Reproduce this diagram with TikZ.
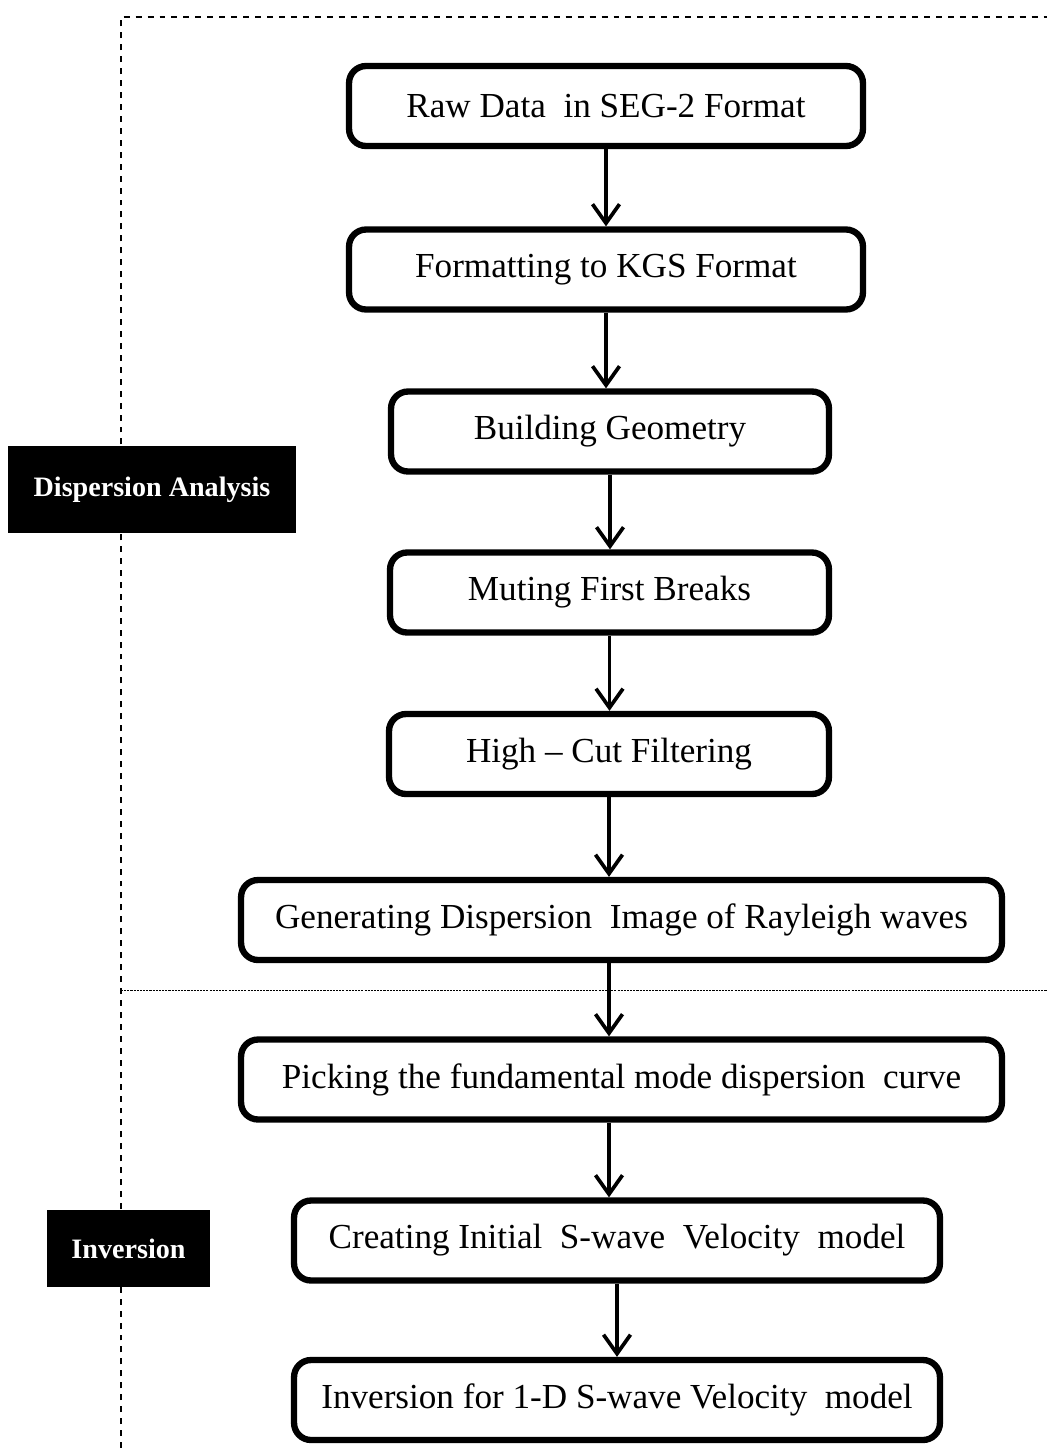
\documentclass[tikz,border=0pt]{standalone}
\usepackage{fontspec}
\setmainfont{Liberation Serif}
\usetikzlibrary{arrows.meta}

\tikzset{
	stepbox/.style={draw, line width=3.6pt, rounded corners=0.34cm, minimum height=1.6cm,
		inner sep=0pt, font=\fontsize{20}{24}\selectfont},
	tagbox/.style={fill=black, text=white, inner sep=0pt, font=\fontsize{16}{19}\selectfont\bfseries},
	flow/.style={line width=2.1pt, -{Straight Barb[length=0.38cm, width=0.54cm, line width=2.1pt]}},
	frame/.style={line width=0.8pt, dash pattern=on 3.4pt off 3.4pt},
	split/.style={line width=0.5pt, dash pattern=on 1.2pt off 0.6pt}
}

\begin{document}
\begin{tikzpicture}[x=0.02cm, y=-0.02cm]
	\useasboundingbox (0,0) rectangle (1047,1448);
	% dashed frame and split line
	\draw[frame] (121,1448) -- (121,17) -- (1047,17);
	\draw[split] (121,990) -- (1047,990);
	% processing steps
	\node[stepbox, minimum width=10.28cm] (raw) at (606,106) {Raw Data\ \ in SEG-2 Format};
	\node[stepbox, minimum width=10.28cm] (kgs) at (606,269.5) {Formatting to KGS Format};
	\node[stepbox, minimum width=8.76cm] (geom) at (610,431.5) {Building Geometry};
	\node[stepbox, minimum width=8.78cm] (mute) at (609.5,592.5) {Muting First Breaks};
	\node[stepbox, minimum width=8.8cm] (filt) at (609,754) {High -- Cut Filtering};
	\node[stepbox, minimum width=15.22cm] (image) at (621.5,920) {Generating Dispersion\ \ Image of Rayleigh waves};
	\node[stepbox, minimum width=15.22cm] (pick) at (621.5,1079.5) {Picking the fundamental mode dispersion\ \ curve};
	\node[stepbox, minimum width=12.92cm] (init) at (617,1240.5) {Creating Initial\ \ S-wave\ \ Velocity\ \ model};
	\node[stepbox, minimum width=12.92cm] (inv) at (617,1400) {Inversion for 1-D S-wave Velocity\ \ model};
	% section labels
	\node[tagbox, minimum width=5.76cm, minimum height=1.74cm] (dispTag) at (152,489.5) {Dispersion Analysis};
	\node[tagbox, minimum width=3.26cm, minimum height=1.54cm] (invTag) at (128.5,1248.5) {Inversion};
	% arrows
	\draw[flow] (raw.south) -- (raw.south |- kgs.north);
	\draw[flow] (kgs.south) -- (kgs.south |- geom.north);
	\draw[flow] (geom.south) -- (geom.south |- mute.north);
	\draw[flow] (mute.south) -- (mute.south |- filt.north);
	\draw[flow] (filt.south) -- (filt.south |- image.north);
	\draw[flow] (filt.south |- image.south) -- (filt.south |- pick.north);
	\draw[flow] (filt.south |- pick.south) -- (filt.south |- init.north);
	\draw[flow] (inv.north |- init.south) -- (inv.north);
\end{tikzpicture}
\end{document}
